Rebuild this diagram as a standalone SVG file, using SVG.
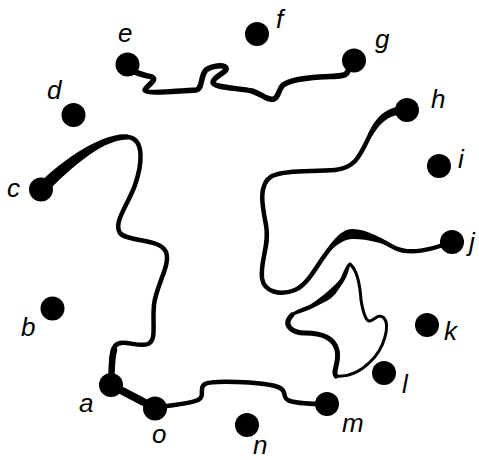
<svg xmlns="http://www.w3.org/2000/svg" width="479" height="460" viewBox="0 0 479 460">
<style>
.dot{fill:#000}
.lbl{font-family:"Liberation Sans",Arial,sans-serif;font-style:italic;font-size:26px;fill:#000}
.ln{fill:none;stroke:#000;stroke-width:4.5;stroke-linecap:round;stroke-linejoin:round}
.tp{fill:#000;stroke:none}
</style>
<rect width="479" height="460" fill="#fff"/>
<g id="connectors">
<path class="tp" d="M37,186 C56,165 100,132 128,134.5 L128,139.5 C100,139 64,175 45,194 Z"/>
<path class="ln" d="M128,137 C145,139 142,165 135,185 C128,205 113,222 120,233 C127,242 160,238 166,252 C171,265 156,285 154,305 C152,325 157,340 148,344 C138,348 122,338 115,346 C110,352 112,370 111,385"/>
<path class="ln" style="stroke-width:6.5" d="M114,350 C111,360 112,372 111,385"/>
<path class="ln" style="stroke-width:8" d="M111,385 L155,408"/>
<path class="ln" d="M155,408 C170,405 190,404 198,400 C206,396 198,388 205,384 C212,380 260,382 275,386 C290,390 280,398 290,401 C300,404 315,404 327,404"/>
<path class="ln" style="stroke-width:5.5" d="M127,65 C130,72 140,74 152,77 C158,80 146,86 145,90 C146,94 180,91 196,90 C203,89 200,76 206,70 C211,66 224,64 226,68 C228,72 214,76 213,82 C212,88 240,88 252,91 C262,94 267,101 274,99 C279,97 278,90 283,85 C290,80 305,78 320,77 C335,76 344,77 347,73 C349,70 349,66 353,61"/>
<path class="tp" d="M407,106 C389,106 377,114 368,134 L372,136 C382,120 391,114 407,114 Z"/>
<path class="ln" d="M407,110 C390,110 380,118 370,135 C360,155 356,168 335,170 C310,172 285,170 272,176 C258,184 262,205 266,225 C270,245 260,260 262,278 C264,292 280,296 295,290 C315,282 325,240 350,234 C365,231 380,240 395,248 C410,255 430,250 452,242"/>
<path class="tp" d="M320,261 C330,243 340,229.5 352,229 C367,229 382,238 398,249 C382,243 366,238.5 352,239 C342,239.5 332,248 320,261 Z"/>
<path class="ln" style="stroke-width:3" d="M350,264 C357,270 360,285 361,300 C363,312 366,322 370,321 C375,320 378,313 384,318 C390,325 385,348 370,362 C360,372 348,377 336,376 C332,372 340,362 337,350 C334,338 322,333 305,333 C292,333 282,325 292,315 C300,308 318,306 330,297 C342,288 343,270 350,264 Z"/>
<path class="tp" d="M350,264 C347.5,288 322.5,308 292,315.5 C317.5,302 342.5,282 350,264 Z"/>
<path class="ln" style="stroke-width:5" d="M336,376 C332,372 340,362 337,350 C334,338 322,333 305,333 C292,333 282,325 292,315"/>
</g>
<g id="node-a"><circle class="dot" cx="111" cy="385" r="12"/><text class="lbl" x="79" y="412">a</text></g>
<g id="node-b"><circle class="dot" cx="52.5" cy="308.5" r="12"/><text class="lbl" x="21" y="336">b</text></g>
<g id="node-c"><circle class="dot" cx="41" cy="189.5" r="12"/><text class="lbl" x="7" y="197">c</text></g>
<g id="node-d"><circle class="dot" cx="73.5" cy="115" r="12"/><text class="lbl" x="47" y="99">d</text></g>
<g id="node-e"><circle class="dot" cx="127.5" cy="64.5" r="12"/><text class="lbl" x="118" y="42">e</text></g>
<g id="node-f"><circle class="dot" cx="257" cy="34" r="12"/><text class="lbl" x="276" y="28">f</text></g>
<g id="node-g"><circle class="dot" cx="354" cy="60.5" r="12"/><text class="lbl" x="375" y="48">g</text></g>
<g id="node-h"><circle class="dot" cx="407" cy="110" r="12"/><text class="lbl" x="431" y="108">h</text></g>
<g id="node-i"><circle class="dot" cx="439" cy="166" r="12"/><text class="lbl" x="458" y="168">i</text></g>
<g id="node-j"><circle class="dot" cx="452" cy="242" r="12"/><text class="lbl" x="469" y="251">j</text></g>
<g id="node-k"><circle class="dot" cx="427" cy="325" r="12"/><text class="lbl" x="444" y="340">k</text></g>
<g id="node-l"><circle class="dot" cx="384" cy="373" r="12"/><text class="lbl" x="402" y="393">l</text></g>
<g id="node-m"><circle class="dot" cx="327" cy="404" r="12"/><text class="lbl" x="342" y="432">m</text></g>
<g id="node-n"><circle class="dot" cx="247" cy="425" r="12"/><text class="lbl" x="253" y="454">n</text></g>
<g id="node-o"><circle class="dot" cx="155" cy="408.5" r="12"/><text class="lbl" x="152" y="443">o</text></g>
</svg>
